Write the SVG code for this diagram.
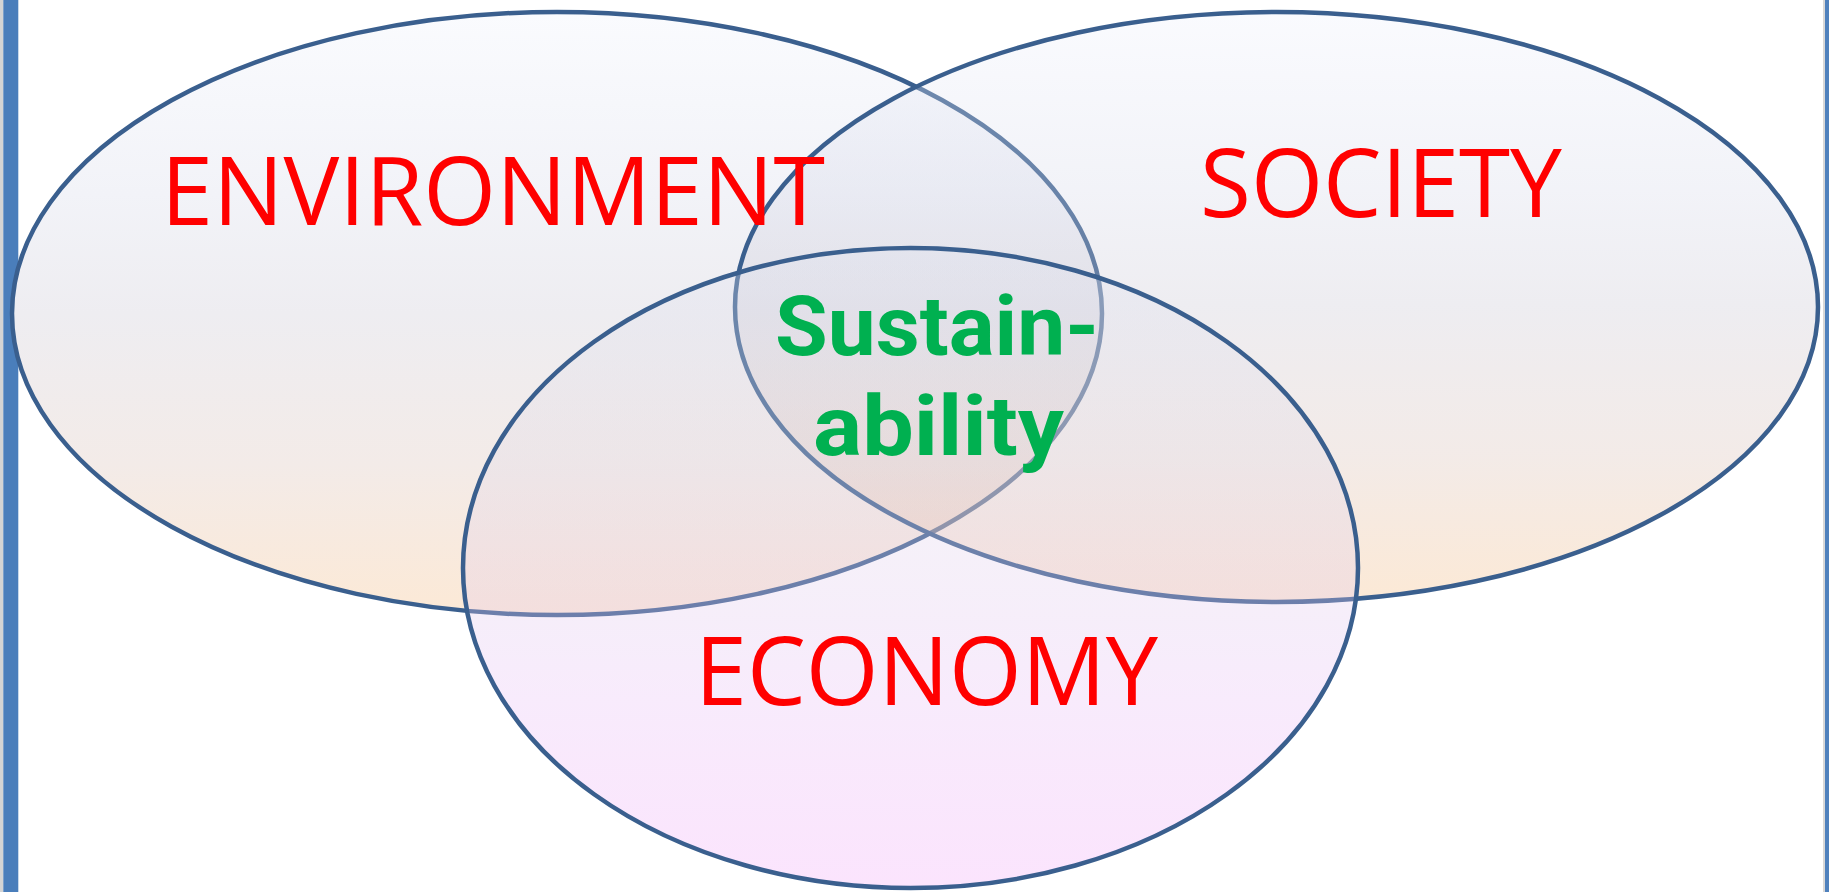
<svg xmlns="http://www.w3.org/2000/svg" width="1829" height="892" viewBox="0 0 1829 892">
<defs>
<linearGradient id="gEnv" x1="0" y1="0" x2="0" y2="1">
<stop offset="0" stop-color="#fafbfe"/>
<stop offset="0.3" stop-color="#f2f3f8"/>
<stop offset="0.5" stop-color="#eeedf1"/>
<stop offset="0.75" stop-color="#f3ebe8"/>
<stop offset="1" stop-color="#fce9d6"/>
</linearGradient>
<linearGradient id="gSoc" x1="0" y1="0" x2="0" y2="1">
<stop offset="0" stop-color="#eef1fc"/>
<stop offset="0.3" stop-color="#d4d7e8"/>
<stop offset="0.5" stop-color="#c6c3d0"/>
<stop offset="0.75" stop-color="#d7bcb2"/>
<stop offset="1" stop-color="#f5b676"/>
</linearGradient>
<linearGradient id="gEco" x1="0" y1="0" x2="0" y2="1">
<stop offset="0" stop-color="#dfe3f1"/>
<stop offset="0.31" stop-color="#e0dbe8"/>
<stop offset="0.58" stop-color="#e1c6ee"/>
<stop offset="0.71" stop-color="#e8bcf5"/>
<stop offset="1" stop-color="#f2a5f8"/>
</linearGradient>
</defs>
<style>
.ring{stroke:#3a5f8e;stroke-width:4.5}
.lbl{font-family:"Open Sans","Noto Sans","Liberation Sans",sans-serif;font-size:95px;fill:#ff0000}
.core{font-family:Roboto,"Liberation Sans",sans-serif;font-size:84px;font-weight:bold;fill:#00b050}
</style>
<rect x="0" y="0" width="1829" height="892" fill="#ffffff"/>
<rect x="0" y="0" width="3.3" height="892" fill="#d4d4d4"/>
<rect x="3.3" y="0" width="15" height="892" fill="#4a7ebb"/>
<rect x="1823" y="0" width="2" height="892" fill="#d8d8d8"/>
<rect x="1825" y="0" width="4" height="892" fill="#4f81bd"/>
<g id="environment">
<ellipse class="ring" cx="557" cy="313.5" rx="545" ry="301.5" fill="url(#gEnv)"/>
</g>
<g id="society">
<ellipse class="ring" cx="1276.5" cy="307" rx="541.5" ry="295" fill="url(#gSoc)" fill-opacity="0.3"/>
</g>
<g id="economy">
<ellipse class="ring" cx="910.5" cy="568" rx="447.5" ry="320" fill="url(#gEco)" fill-opacity="0.3"/>
</g>
<g id="connectors"></g>
<g id="labels">
<text class="lbl" x="161" y="225" textLength="664" lengthAdjust="spacingAndGlyphs">ENVIRONMENT</text>
<text class="lbl" x="1200" y="217" textLength="362" lengthAdjust="spacingAndGlyphs">SOCIETY</text>
<text class="lbl" x="695" y="705" textLength="463" lengthAdjust="spacingAndGlyphs">ECONOMY</text>
</g>
<g id="sustainability">
<text class="core" x="775" y="355" textLength="324" lengthAdjust="spacingAndGlyphs">Sustain-</text>
<text class="core" x="813" y="455" textLength="251" lengthAdjust="spacingAndGlyphs">ability</text>
</g>
</svg>
